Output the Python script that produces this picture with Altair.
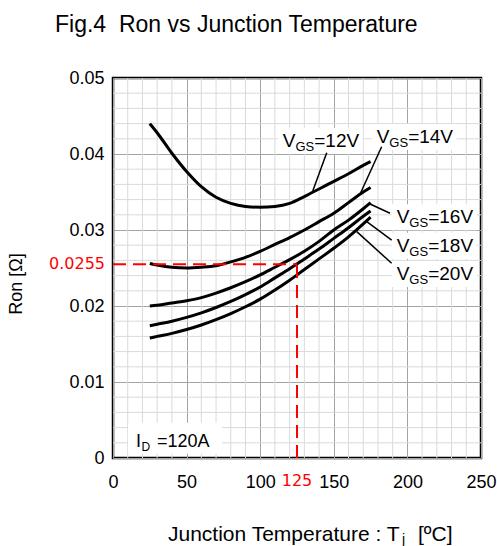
import altair as alt
import pandas as pd

FONT = "Liberation Sans"

# ---- data ----
temps = [25, 30, 40, 50, 60, 70, 80, 90, 100, 110, 120, 130, 140, 150, 160, 170, 175]
ron_12v = [0.0440, 0.0428, 0.0401, 0.0377, 0.0357, 0.0343, 0.0335, 0.0331, 0.0330,
           0.0331, 0.0335, 0.0344, 0.0354, 0.0364, 0.0374, 0.0385, 0.0390]
ron_14v = [0.0256, 0.0254, 0.0251, 0.0250, 0.0251, 0.0253, 0.0258, 0.0264, 0.0272,
           0.0281, 0.0290, 0.0300, 0.0311, 0.0322, 0.0336, 0.0350, 0.0356]
ron_16v = [0.0200, 0.0201, 0.0204, 0.0207, 0.0211, 0.0217, 0.0224, 0.0232, 0.0241,
           0.0251, 0.0261, 0.0272, 0.0285, 0.0300, 0.0313, 0.0328, 0.0336]
ron_18v = [0.0174, 0.0176, 0.0180, 0.0185, 0.0191, 0.0198, 0.0206, 0.0215, 0.0225,
           0.0237, 0.0249, 0.0262, 0.0275, 0.0289, 0.0303, 0.0318, 0.0325]
ron_20v = [0.0158, 0.0160, 0.0164, 0.0169, 0.0175, 0.0182, 0.0190, 0.0199, 0.0209,
           0.0221, 0.0234, 0.0248, 0.0262, 0.0276, 0.0291, 0.0308, 0.0317]
series_names = ["12V", "14V", "16V", "18V", "20V"]

# label anchors (data units) and leader lines
label_text = ["=12V", "=14V", "=16V", "=18V", "=20V"]
label_T = [115.3, 179.1, 192.7, 192.7, 192.7]
label_R = [0.04096, 0.04145, 0.03088, 0.02714, 0.02342]
lead_T1 = [145.2, 182.5, 188.2, 189.3, 189.3]
lead_R1 = [0.04017, 0.04096, 0.0322, 0.02868, 0.02562]
lead_T2 = [135.7, 167.8, 174.6, 172.4, 165.6]
lead_R2 = [0.03513, 0.03470, 0.03342, 0.03109, 0.02978]

id_T = [15.6]
id_R = [0.00149]
id_text = ["=120A"]

mark_T = [125]
mark_R = [0.0255]

x_ticks = [0, 50, 100, 150, 200, 250]
y_ticks = [0, 0.01, 0.02, 0.03, 0.04, 0.05]
x_minor = [t for t in range(0, 251, 10) if t % 50]
y_minor = [round(i * 0.002, 3) for i in range(26) if i % 5]

# ---- tables ----
rows = []
for name, vals in zip(series_names, [ron_12v, ron_14v, ron_16v, ron_18v, ron_20v]):
    for t, r in zip(temps, vals):
        rows.append({"T": t, "R": r, "vgs": name})
curves = pd.DataFrame(rows)
labels = pd.DataFrame({"T": label_T, "R": label_R, "val": label_text})
leaders = pd.DataFrame({"T1": lead_T1, "R1": lead_R1, "T2": lead_T2, "R2": lead_R2})
id_df = pd.DataFrame({"T": id_T, "R": id_R, "val": id_text})
mark_df = pd.DataFrame({"T": mark_T, "R": mark_R, "T0": [0], "R0": [0]})
xminor_df = pd.DataFrame({"T": x_minor})
yminor_df = pd.DataFrame({"R": y_minor})

x_scale = alt.Scale(domain=[0, 250], nice=False, zero=False)
y_scale = alt.Scale(domain=[0, 0.05], nice=False)

x_major = alt.Axis(values=x_ticks, grid=True, gridColor="#a4a4a4", gridWidth=1,
                   ticks=False, domain=False, title=None,
                   labelFont=FONT, labelFontSize=18, labelColor="black",
                   labelPadding=15, labelFlush=False)
y_major = alt.Axis(values=y_ticks, grid=True, gridColor="#a4a4a4", gridWidth=1,
                   ticks=False, domain=False, format=".2~f",
                   labelFont=FONT, labelFontSize=18, labelColor="black",
                   labelPadding=9, labelFlush=False,
                   title="Ron [\u03a9]", titleFont=FONT, titleFontSize=18,
                   titleFontWeight="normal", titleColor="black",
                   titleX=-88, titleY=205.5)

# minor grid lines
xgrid = alt.Chart(xminor_df).mark_rule(color="#dadada", strokeWidth=1).encode(
    x=alt.X("T:Q", scale=x_scale, axis=x_major))
ygrid = alt.Chart(yminor_df).mark_rule(color="#dadada", strokeWidth=1).encode(
    y=alt.Y("R:Q", scale=y_scale, axis=y_major))

# white label boxes
boxes = alt.Chart(labels).mark_rect(color="white", xOffset=-5, x2Offset=80,
                                    yOffset=-19, y2Offset=7).encode(
    x="T:Q", x2="T:Q", y="R:Q", y2="R:Q")
id_box = alt.Chart(id_df).mark_rect(color="white", xOffset=-8, x2Offset=86,
                                    yOffset=-24, y2Offset=7).encode(
    x="T:Q", x2="T:Q", y="R:Q", y2="R:Q")

lines = alt.Chart(curves).mark_line(color="black", strokeWidth=3,
                                    interpolate="monotone").encode(
    x="T:Q", y="R:Q", detail="vgs:N")

lead = alt.Chart(leaders).mark_rule(color="black", strokeWidth=1.5).encode(
    x="T1:Q", y="R1:Q", x2="T2:Q", y2="R2:Q")

hdash = alt.Chart(mark_df).mark_rule(color="#ff0000", strokeWidth=2,
                                     strokeDash=[13, 7]).encode(
    x="T0:Q", x2="T:Q", y="R:Q")
vdash = alt.Chart(mark_df).mark_rule(color="#ff0000", strokeWidth=2,
                                     strokeDash=[13, 7]).encode(
    x="T:Q", y="R0:Q", y2="R:Q")
red_y = alt.Chart(mark_df).mark_text(color="#ff0000", font="DejaVu Sans", fontSize=16,
                                     align="right", baseline="middle", dx=-8).encode(
    x="T0:Q", y="R:Q", text=alt.Text("R:Q", format=".4f"))
red_x = alt.Chart(mark_df).mark_text(color="#ff0000", font="DejaVu Sans", fontSize=16,
                                     align="center", baseline="alphabetic", dy=28).encode(
    x="T:Q", y="R0:Q", text=alt.Text("T:Q", format="d"))

lab_base = alt.Chart(labels).encode(x="T:Q", y="R:Q")
v_txt = lab_base.mark_text(text="V", align="left", baseline="alphabetic",
                           font=FONT, fontSize=19, color="black")
gs_txt = lab_base.mark_text(text="GS", align="left", baseline="alphabetic",
                            font=FONT, fontSize=13, dx=12.7, dy=4, color="black")
val_txt = lab_base.mark_text(align="left", baseline="alphabetic", font=FONT,
                             fontSize=19, dx=31.5, color="black").encode(text="val:N")

id_base = alt.Chart(id_df).encode(x="T:Q", y="R:Q")
i_txt = id_base.mark_text(text="I", align="left", baseline="alphabetic",
                          font=FONT, fontSize=18, color="black")
d_txt = id_base.mark_text(text="D", align="left", baseline="alphabetic",
                          font=FONT, fontSize=12, dx=5.5, dy=4, color="black")
idv_txt = id_base.mark_text(align="left", baseline="alphabetic", font=FONT,
                            fontSize=18, dx=21, color="black").encode(text="val:N")

# x-axis title pieces (with subscript), anchored at the axis origin
xt_main = alt.Chart(mark_df).mark_text(text="Junction Temperature : T", align="left",
                                       baseline="alphabetic", font=FONT, fontSize=21,
                                       color="black", dx=55, dy=82.5).encode(
    x="T0:Q", y="R0:Q")
xt_sub = alt.Chart(mark_df).mark_text(text="j", align="left", baseline="alphabetic",
                                      font=FONT, fontSize=14, color="black",
                                      dx=289, dy=86).encode(x="T0:Q", y="R0:Q")
xt_unit = alt.Chart(mark_df).mark_text(text="[\u00baC]", align="left",
                                       baseline="alphabetic", font=FONT, fontSize=21,
                                       color="black", dx=305, dy=82.5).encode(
    x="T0:Q", y="R0:Q")

chart = alt.layer(
    xgrid, ygrid, boxes, id_box, lines, lead, hdash, vdash, red_y, red_x,
    v_txt, gs_txt, val_txt, i_txt, d_txt, idv_txt, xt_main, xt_sub, xt_unit
).properties(
    width=368, height=380,
    autosize=alt.AutoSizeParams(type="none"),
    padding={"left": 113, "top": 78, "right": 16, "bottom": 88},
    title=alt.TitleParams("Fig.4\u00a0 Ron vs Junction Temperature", anchor="start",
                          frame="group", dx=-58, offset=32, fontSize=23, font=FONT,
                          fontWeight="normal", color="black"),
).configure_view(stroke="black", strokeWidth=2.5)

chart.save("out.html", embed_options={"renderer": "svg", "actions": False})
